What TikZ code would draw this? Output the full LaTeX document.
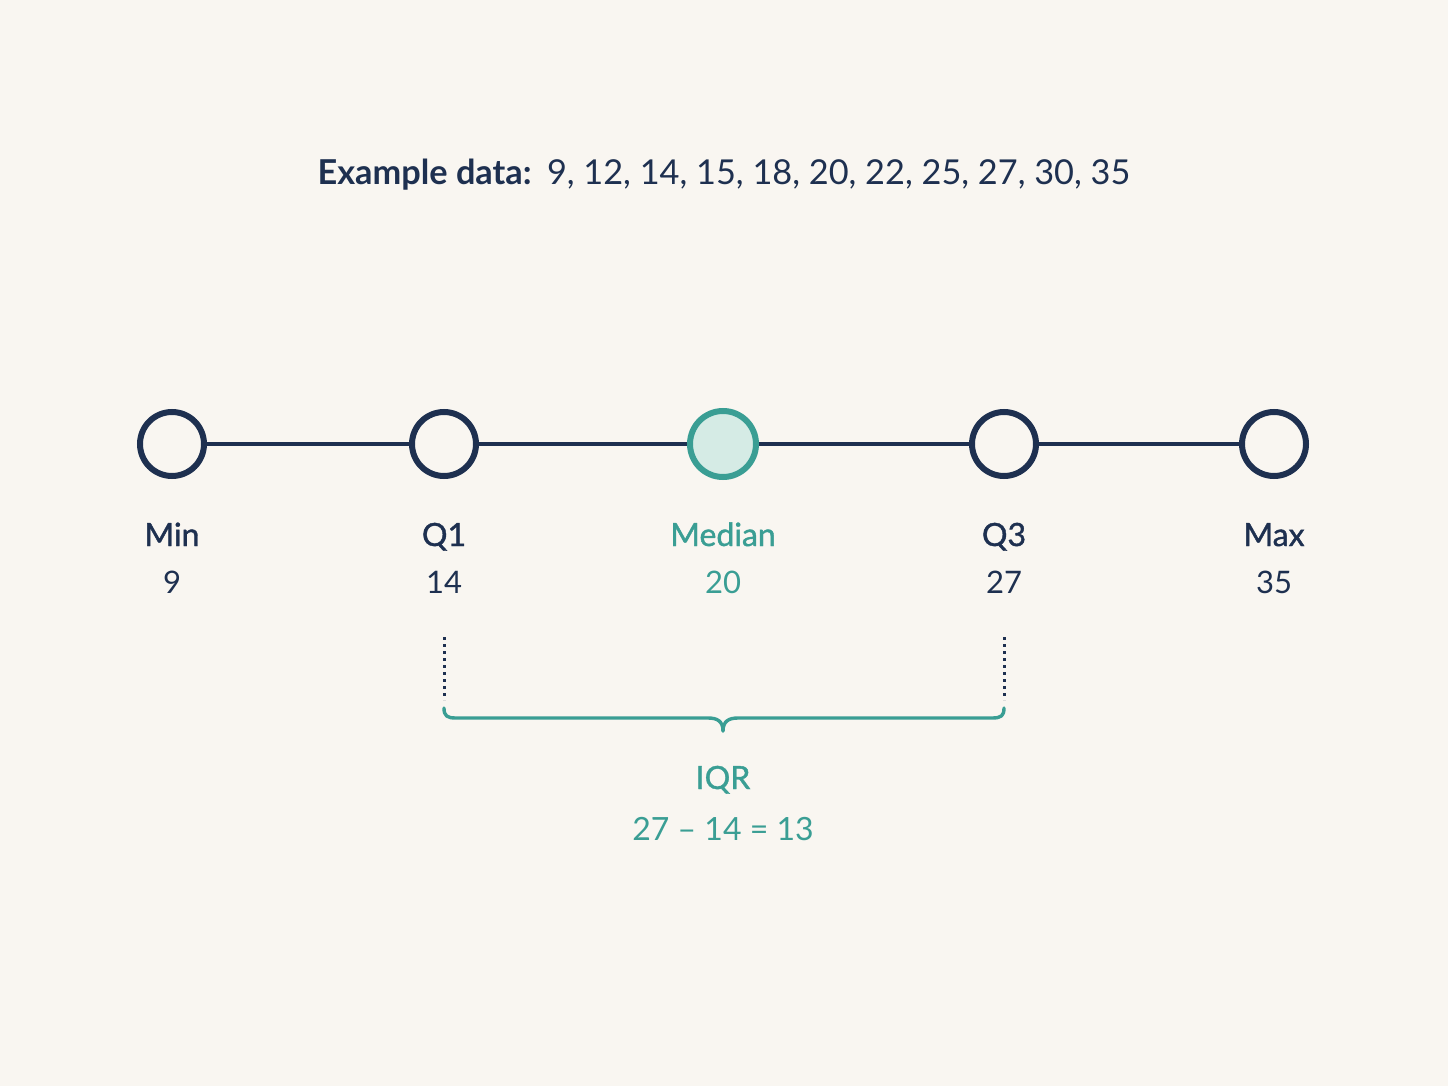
\documentclass[tikz,border=0pt]{standalone}
\usepackage{fontspec}
\setmainfont{Lato}
\newfontfamily\medfont{Lato}[FakeBold=1.2]
\definecolor{bg}{HTML}{F9F6F1}
\definecolor{navy}{HTML}{1E3050}
\definecolor{teal}{HTML}{3A9E94}
\definecolor{tealfill}{HTML}{D5EBE5}
\begin{document}
\begin{tikzpicture}[x=1pt,y=-1pt,
  pt/.style={circle,draw=navy,line width=6pt,fill=bg,minimum size=64pt,inner sep=0pt},
  med/.style={circle,draw=teal,line width=6pt,fill=tealfill,minimum size=66pt,inner sep=0pt},
  lab/.style={text=navy,font=\fontsize{32}{36}\medfont,anchor=base},
  num/.style={text=navy,font=\fontsize{31}{36}\selectfont,anchor=base},
  axis/.style={draw=navy,line width=4pt},
  dots/.style={draw=navy,line width=3pt,dash pattern=on 3pt off 4pt},
  brace/.style={draw=teal,line width=3.4pt,line cap=round,line join=round}]
\fill[bg] (0,0) rectangle (1448,1086);
\useasboundingbox (0,0) rectangle (1448,1086);
\node[text=navy,anchor=base,font=\fontsize{34.3}{40}\selectfont] (title) at (724,185)
  {\textbf{Example data:}\hspace{0.45em}9, 12, 14, 15, 18, 20, 22, 25, 27, 30, 35};
\node[pt] (min) at (172,444) {};
\node[pt] (q1) at (444,444) {};
\node[med] (med) at (723,444) {};
\node[pt] (q3) at (1004,444) {};
\node[pt] (max) at (1274,444) {};
\draw[axis] (min) -- (q1);
\draw[axis] (q1) -- (med);
\draw[axis] (med) -- (q3);
\draw[axis] (q3) -- (max);
\node[lab] (lmin) at (172,546) {Min};
\node[lab] (lq1) at (444,546) {Q1};
\node[lab,text=teal] (lmed) at (723,546) {Median};
\node[lab] (lq3) at (1004,546) {Q3};
\node[lab] (lmax) at (1274,546) {Max};
\node[num] (nmin) at (172,593) {9};
\node[num] (nq1) at (444,593) {14};
\node[num,text=teal] (nmed) at (723,593) {20};
\node[num] (nq3) at (1004,593) {27};
\node[num] (nmax) at (1274,593) {35};
\coordinate (d1a) at (444,637);
\coordinate (d1b) at (444,700);
\coordinate (d2a) at (1004,637);
\coordinate (d2b) at (1004,700);
\draw[dots] (d1a) -- (d1b);
\draw[dots] (d2a) -- (d2b);
\coordinate (bl) at (444,708);
\coordinate (br) at (1004,708);
\coordinate (tip) at (723,731);
\draw[brace] (bl) .. controls (444,716) and (447,718) .. (456,718)
  -- (708,718) .. controls (717,718) and (723,721) .. (tip);
\draw[brace] (br) .. controls (1004,716) and (1001,718) .. (992,718)
  -- (738,718) .. controls (729,718) and (723,721) .. (tip);
\node[lab,text=teal] (iqr) at (723,789) {IQR};
\node[num,text=teal,font=\fontsize{32}{36}\selectfont] (form) at (723,840) {27 – 14 = 13};
\end{tikzpicture}
\end{document}
